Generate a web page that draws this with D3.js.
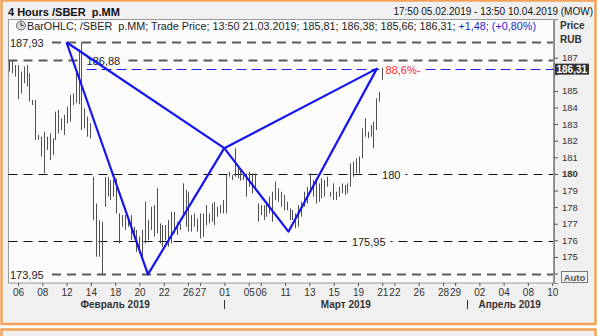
<!DOCTYPE html>
<html>
<head>
<meta charset="UTF-8">
<title></title>
<script src="https://cdn.jsdelivr.net/npm/d3@7"></script>
<style>
  body { margin: 0; background: #fff; }
  text { font-family: "Liberation Sans", Arial, sans-serif; white-space: pre; }
</style>
</head>
<body>
<div id="chart"></div>
<script>
// trading days shown on the axis (Mar 8 is a holiday)
var days = ["05.02","06.02","07.02","08.02","11.02","12.02","13.02","14.02","15.02","18.02","19.02","20.02","21.02","22.02","25.02","26.02","27.02","28.02",
  "01.03","04.03","05.03","06.03","07.03","11.03","12.03","13.03","14.03","15.03","18.03","19.03","20.03","21.03","22.03","25.03","26.03","27.03","28.03","29.03",
  "01.04","02.04","03.04","04.04","05.04","08.04","09.04","10.04"];
var tickDays = ["06.02","08.02","12.02","14.02","18.02","20.02","22.02","26.02","27.02","01.03","05.03","06.03","11.03",
  "13.03","15.03","19.03","21.03","22.03","26.03","28.03","29.03","02.04","04.04","08.04","10.04"];
var monthNames = ["Февраль 2019", "Март 2019", "Апрель 2019"];
var monthStart = ["05.02", "01.03", "01.04"];
var monthEnd = ["28.02", "29.03", "10.04"];
var priceTicks = [174,175,176,177,178,179,180,181,182,183,184,185,186,187];

// 4h bars, 05.02 17:50 .. 21.03 13:50
var firstBar = "05.02 17:50", lastBar = "21.03 13:50";
var barHigh = [186.86,186.82,186.56,186.56,186.16,186.46,186.56,186.06,184.45,184.45,
  182.34,182.24,182.54,182.24,182.44,182.14,183.75,183.85,183.35,183.55,
  184.05,184.75,184.85,186.16,187.50,187.93,183.95,183.45,183.05,179.83,
  178.22,177.22,177.12,179.83,179.83,179.63,179.63,179.73,177.62,177.52,
  177.52,177.42,177.52,176.82,176.62,176.22,176.62,178.32,177.22,178.02,
  178.12,179.13,177.02,176.92,176.92,177.22,177.72,177.72,177.12,177.02,
  179.43,179.03,178.93,177.52,177.62,177.32,177.62,177.62,
  178.12,177.62,178.22,178.32,178.02,178.12,178.43,179.93,180.13,179.93,
  181.54,180.43,180.20,179.93,180.03,180.13,180.03,180.03,178.22,178.12,
  178.12,178.22,178.63,178.93,179.53,179.13,178.93,178.73,178.32,177.92,
  177.82,177.62,178.12,178.32,178.93,179.23,180.03,179.63,179.63,179.43,
  179.73,179.63,179.83,178.93,179.43,178.93,179.23,179.43,179.33,179.43,
  180.63,180.73,180.93,181.04,182.74,183.35,182.54,182.94,183.15,184.55,
  184.95,186.38];
var barLow = [186.16,186.06,185.86,184.49,184.85,185.46,185.26,184.35,184.15,182.04,
  182.04,181.04,180.03,181.44,180.84,181.14,182.04,182.44,182.64,182.34,
  183.05,183.15,184.15,184.25,184.20,182.64,182.74,182.24,182.14,177.22,
  175.01,175.01,173.95,178.02,178.63,178.43,178.63,177.62,175.81,176.82,
  176.62,176.82,176.01,176.11,175.31,175.21,175.01,175.81,176.01,176.62,
  176.22,176.42,175.81,175.61,176.01,175.61,175.81,176.42,176.32,176.62,
  177.42,176.82,176.52,176.52,176.82,176.52,176.11,176.21,
  176.92,177.02,177.12,176.92,177.42,177.62,177.62,177.62,179.83,179.63,
  179.83,179.73,179.60,179.63,178.63,179.23,178.83,179.13,177.12,177.52,
  177.22,177.42,177.62,177.12,178.43,178.32,178.02,177.82,177.82,177.22,
  177.22,176.72,176.82,177.42,178.02,178.22,179.03,178.63,178.22,178.32,
  178.53,178.63,179.23,178.63,178.43,178.43,178.63,178.83,178.73,178.83,
  179.23,179.83,180.03,180.03,180.94,182.24,182.14,182.24,181.54,182.64,
  184.35,185.66];

// XABCD pattern
var patternTime = ["12.02 13:50", "21.02 09:50", "01.03 13:50", "11.03 17:50", "20.03 21:50"];
var patternPrice = [187.93, 173.95, 181.55, 176.52, 186.34];

// horizontal levels
var levelValue = [187.93, 186.88, 180, 175.95, 173.95];
var levelText = ["187,93", "186,88", "180", "175,95", "173,95"];
var lastPrice = 186.31;

var W = 600, H = 336;
var svg = d3.select("#chart").append("svg").attr("width", W).attr("height", H);

// position of "dd.mm hh:mm" in trading-day units, day label sits at 14:00
function pos(s) {
  var p = s.split(" "), hm = p[1].split(":");
  return days.indexOf(p[0]) + (+hm[0] + hm[1] / 60 - 14) / 14;
}

var x = d3.scaleLinear().domain([0, days.length - 1]).range([5.9, 552.2]);
var y = d3.scaleLinear().domain([173.43, 189.33]).range([283, 19]);

// frame
svg.append("rect").attr("x", 1.5).attr("y", 0.5).attr("width", 594).attr("height", 323.5)
  .attr("fill", "#f0f0f0").attr("stroke", "#f3a256").attr("stroke-width", 2.5);
svg.append("rect").attr("x", 1.5).attr("y", 329.5).attr("width", 594).attr("height", 20)
  .attr("fill", "#f0f0f0").attr("stroke", "#f3a256").attr("stroke-width", 2.5);

svg.append("text").attr("x", 8).attr("y", 16).attr("font-size", 11).attr("font-weight", "bold")
  .attr("fill", "#111").text("4 Hours /SBER  p.MM");
svg.append("text").attr("x", 593).attr("y", 15).attr("font-size", 10).attr("text-anchor", "end")
  .attr("fill", "#111").text("17:50 05.02.2019 - 13:50 10.04.2019 (MOW)");

// plot box
svg.append("rect").attr("x", 8.5).attr("y", 19.5).attr("width", 545).attr("height", 263.5)
  .attr("fill", "#fcfcfc").attr("stroke", "#9a9a9a");

// info line
var clock = svg.append("g").attr("transform", "translate(21,25.5)");
clock.append("circle").attr("r", 4.5).attr("fill", "#d8d8d8").attr("stroke", "#666");
clock.append("path").attr("d", "M0,-3V0H2.5").attr("fill", "none").attr("stroke", "#333");
var info = svg.append("text").attr("x", 27).attr("y", 29.5).attr("font-size", 10.8).attr("fill", "#222");
info.append("tspan").text("BarOHLC; /SBER  p.MM; Trade Price; 13:50 21.03.2019; 185,81; 186,38; 185,66; 186,31; ");
info.append("tspan").attr("fill", "#1c1cd0").text("+1,48; (+0,80%)");

svg.append("text").attr("x", 560).attr("y", 29).attr("font-size", 10).attr("font-weight", "bold").attr("fill", "#333").text("Price");
svg.append("text").attr("x", 560).attr("y", 42.5).attr("font-size", 10).attr("font-weight", "bold").attr("fill", "#333").text("RUB");

var plot = svg.append("g");

// level lines
var heavy = [true, true, false, false, true];
var labelPos = [null, "13.02 23:00", "21.03 13:50", "18.03 21:00", null];
levelValue.forEach(function(v, i) {
  var yy = Math.round(y(v)) + 0.5;
  var x0 = 8.5, lx = null;
  if (labelPos[i] === null) { x0 = 52; }
  plot.append("line").attr("x1", x0).attr("x2", 553).attr("y1", yy).attr("y2", yy)
    .attr("stroke", heavy[i] ? "#5a5a5a" : "#111")
    .attr("stroke-width", heavy[i] ? 2 : 1)
    .attr("stroke-dasharray", "9,6");
  if (labelPos[i] === null) {
    plot.append("text").attr("x", 10).attr("y", yy + 4).attr("font-size", 11).attr("fill", "#222").text(levelText[i]);
  } else {
    lx = x(pos(labelPos[i]));
    var t = plot.append("text").attr("x", lx).attr("y", yy + 4).attr("font-size", 11).attr("fill", "#222").text(levelText[i]);
    var bb = t.node().getBBox();
    plot.insert("rect", "text:last-child").attr("x", bb.x - 5).attr("y", yy - 2).attr("width", bb.width + 10).attr("height", 4)
      .attr("fill", "#fcfcfc");
  }
});

// fib 88.6% level from X and A
var fib = patternPrice[1] + 0.886 * (patternPrice[0] - patternPrice[1]);
var fy = Math.round(y(fib)) + 0.5;
var fx0 = x(pos("13.02 23:00"));
var fl = x(pos("21.03 17:50"));
plot.append("line").attr("x1", fx0).attr("x2", fl - 6).attr("y1", fy).attr("y2", fy)
  .attr("stroke", "#2020ee").attr("stroke-dasharray", "10,5");
plot.append("line").attr("x1", fl + 40).attr("x2", 556).attr("y1", fy).attr("y2", fy)
  .attr("stroke", "#2020ee").attr("stroke-dasharray", "10,5");
plot.append("text").attr("x", fl).attr("y", fy + 4).attr("font-size", 11).attr("fill", "#ff2b2b").text("88,6%-");

// bars
var t0 = pos(firstBar), t1 = pos(lastBar);
var step = (t1 - t0) / (barHigh.length - 1);
plot.selectAll(".bar").data(barHigh).join("line").attr("class", "bar")
  .attr("x1", function(d, i) { return Math.round(x(t0 + i * step)) + 0.5; })
  .attr("x2", function(d, i) { return Math.round(x(t0 + i * step)) + 0.5; })
  .attr("y1", function(d) { return y(d); })
  .attr("y2", function(d, i) { return y(barLow[i]); })
  .attr("stroke", "#505050").attr("stroke-width", 1);

// pattern triangles XAB and BCD
var pts = patternTime.map(function(t, i) { return [x(pos(t)), y(patternPrice[i])]; });
var line = d3.line();
plot.append("path").attr("d", line([pts[0], pts[1], pts[2], pts[0]]))
  .attr("fill", "none").attr("stroke", "#1414f0").attr("stroke-width", 2.2).attr("stroke-linejoin", "round");
plot.append("path").attr("d", line([pts[2], pts[3], pts[4], pts[2]]))
  .attr("fill", "none").attr("stroke", "#1414f0").attr("stroke-width", 2.2).attr("stroke-linejoin", "round");

// right price axis (174 sits under the Auto button, 186 under the last price)
var yAxis = svg.append("g").attr("transform", "translate(554,0)")
  .call(d3.axisRight(y).tickValues(priceTicks).tickSize(4).tickPadding(4)
    .tickFormat(function(d) { return (d === 174 || d === 186) ? "" : d; }));
yAxis.select(".domain").attr("stroke", "#888");
yAxis.selectAll(".tick line").attr("stroke", "#555");
yAxis.selectAll(".tick text").attr("font-size", 9.5).attr("fill", "#333")
  .attr("font-family", "Liberation Sans, Arial, sans-serif")
  .attr("font-weight", function(d) { return d === 180 ? "bold" : null; });

// last price marker
var ly = y(lastPrice);
svg.append("rect").attr("x", 555).attr("y", ly - 5.5).attr("width", 34).attr("height", 11).attr("fill", "#333");
svg.append("text").attr("x", 556.5).attr("y", ly + 3.5).attr("font-size", 10).attr("font-weight", "bold")
  .attr("fill", "#fff").text("186,31");

// auto button
svg.append("rect").attr("x", 561.5).attr("y", 271.5).attr("width", 26).attr("height", 11)
  .attr("fill", "#f4f4f4").attr("stroke", "#777");
svg.append("text").attr("x", 574.5).attr("y", 280.5).attr("font-size", 9.5).attr("font-weight", "bold")
  .attr("text-anchor", "middle").attr("fill", "#555").text("Auto");

// bottom date axis
var xAxis = svg.append("g").attr("transform", "translate(0,283)")
  .call(d3.axisBottom(x).tickValues(tickDays.map(function(d) { return days.indexOf(d); }))
    .tickSize(3).tickPadding(3)
    .tickFormat(function(i) { return days[i].slice(0, 2); }));
xAxis.select(".domain").remove();
xAxis.selectAll(".tick line").attr("stroke", "#555");
xAxis.selectAll(".tick text").attr("font-size", 10).attr("fill", "#333")
  .attr("font-family", "Liberation Sans, Arial, sans-serif");

monthNames.forEach(function(m, i) {
  var a = days.indexOf(monthStart[i]);
  var b = Math.min(days.indexOf(monthEnd[i]) + 1, days.length - 1);
  svg.append("text").attr("x", x((a + b) / 2)).attr("y", 308).attr("font-size", 10).attr("font-weight", "bold")
    .attr("text-anchor", "middle").attr("fill", "#333").text(m);
  if (i > 0) {
    svg.append("line").attr("x1", Math.round(x(a)) + 0.5).attr("x2", Math.round(x(a)) + 0.5)
      .attr("y1", 300).attr("y2", 309).attr("stroke", "#333");
  }
});
</script>
</body>
</html>
